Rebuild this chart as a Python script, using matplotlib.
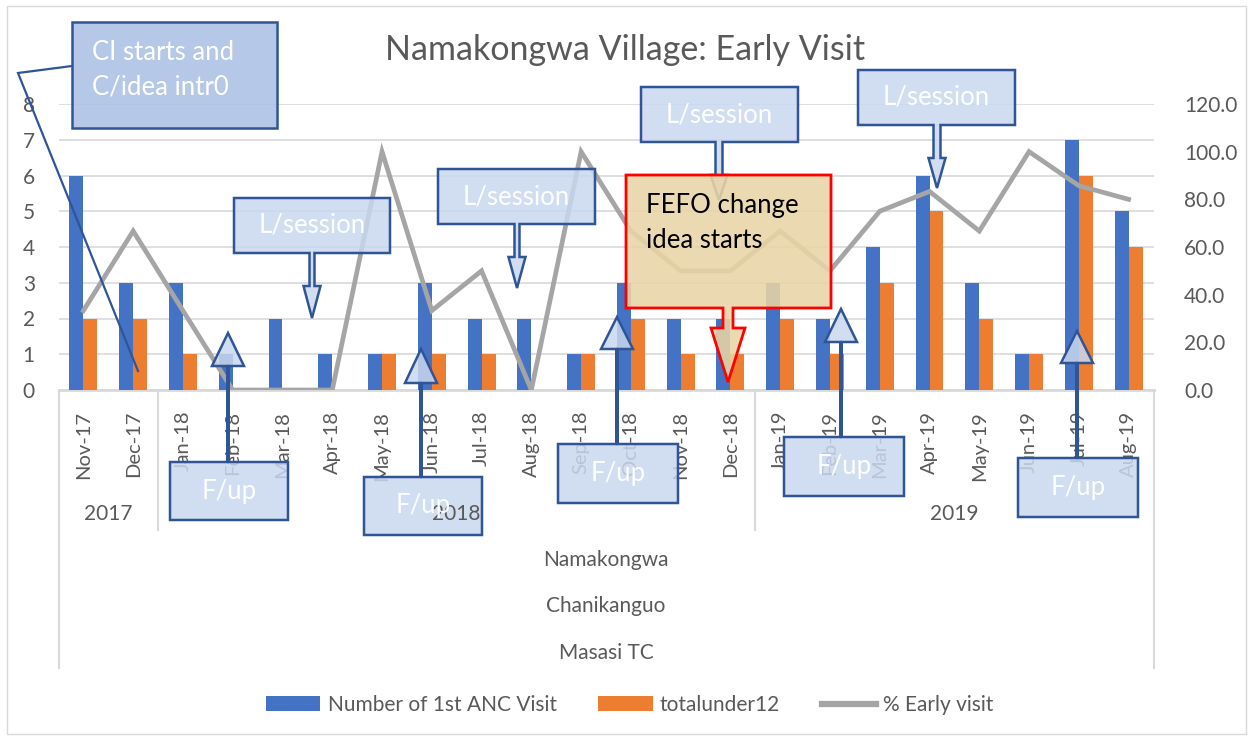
"""Namakongwa Village: Early Visit - combo chart with QI callouts."""
import matplotlib
matplotlib.use("Agg")
import matplotlib.pyplot as plt
from matplotlib.patches import Polygon, Rectangle, Patch
from matplotlib.lines import Line2D
from matplotlib.colors import to_rgba
from matplotlib import transforms
import numpy as np

plt.rcParams["font.family"] = ["Lato", "DejaVu Sans"]

months = ["Nov-17", "Dec-17", "Jan-18", "Feb-18", "Mar-18", "Apr-18", "May-18",
          "Jun-18", "Jul-18", "Aug-18", "Sep-18", "Oct-18", "Nov-18", "Dec-18",
          "Jan-19", "Feb-19", "Mar-19", "Apr-19", "May-19", "Jun-19", "Jul-19", "Aug-19"]
years = ["2017", "2018", "2019"]
year_first = [0, 2, 14]
year_last = [1, 13, 21]
levels = ["Namakongwa", "Chanikanguo", "Masasi TC"]

anc_first = [6, 3, 3, 1, 2, 1, 1, 3, 2, 2, 1, 3, 2, 2, 3, 2, 4, 6, 3, 1, 7, 5]
under12 = [2, 2, 1, 0, 0, 0, 1, 1, 1, 0, 1, 2, 1, 1, 2, 1, 3, 5, 2, 1, 6, 4]
pct_early = [33.3, 66.7, 33.3, 0.0, 0.0, 0.0, 100.0, 33.3, 50.0, 0.0, 100.0, 66.7,
             50.0, 50.0, 66.7, 50.0, 75.0, 83.3, 66.7, 100.0, 85.7, 80.0]

BLUE, ORANGE, GRAY = "#4472C4", "#ED7D31", "#A5A5A5"
TXT, GRID = "#595959", "#D9D9D9"
EDGE = "#2F5597"
W, H = 1250, 740

fig = plt.figure(figsize=(W / 100, H / 100), dpi=100)
ax = fig.add_axes([58.5 / W, (H - 390) / H, (1153.5 - 58.5) / W, (390 - 104) / H])
ax2 = ax.twinx()

x = np.arange(len(months))
ax.bar(x - 0.14, anc_first, width=0.28, color=BLUE, zorder=2)
ax.bar(x + 0.14, under12, width=0.28, color=ORANGE, zorder=2)
ax2.plot(x, pct_early, color=GRAY, lw=3.4, solid_joinstyle="miter")

ax.set_xlim(-0.5, len(months) - 0.5)
ax.set_ylim(0, 8)
ax2.set_ylim(0, 120)
ax.set_yticks(range(0, 9))
ax2.set_yticks(range(0, 121, 20))
ax2.set_yticklabels([f"{v:.1f}" for v in range(0, 121, 20)])
ax.set_xticks(x)
ax.set_xticklabels(months, rotation=90, va="top", ha="center")
ax.set_axisbelow(True)
ax.yaxis.grid(True, color=GRID, lw=1.2)
ax.axhline(0, color=GRID, lw=2, zorder=1, clip_on=False)
for a in (ax, ax2):
    for s in a.spines.values():
        s.set_visible(False)
ax.tick_params(axis="y", length=0, pad=17, labelsize=15, labelcolor=TXT)
ax.tick_params(axis="x", length=0, pad=15, labelsize=14.5, labelcolor=TXT)
ax2.tick_params(axis="y", length=0, pad=22, labelsize=15, labelcolor=TXT)

# overlay in pixel coordinates for table lines and callouts
ov = fig.add_axes([0, 0, 1, 1])
ov.set_xlim(0, W); ov.set_ylim(H, 0); ov.axis("off")
bt = transforms.blended_transform_factory(ax.transData, ov.transData)

ov.add_patch(Rectangle((7, 6), 1239, 728, fill=False, ec=GRID, lw=1))

n = len(months)
for xv, y1 in [(-0.5, 668), (n - 0.5, 668), (1.5, 530), (13.5, 530)]:
    ov.plot([xv, xv], [392, y1], color=GRID, lw=1.5, transform=bt)
for yr, a, b in zip(years, year_first, year_last):
    ov.text((a + b) / 2, 514, yr, transform=bt, ha="center", va="center",
            fontsize=15, color=TXT)
for lab, yy in zip(levels, [560, 606, 653]):
    ov.text((n - 1) / 2, yy, lab, transform=bt, ha="center", va="center",
            fontsize=15, color=TXT)

fig.text(625.5 / W, 1 - 50 / H, "Namakongwa Village: Early Visit", ha="center",
         va="center", fontsize=24.5, color=TXT)


def callout(box, cx, sw, base, hw, tip, fc, ec, alpha=0.85, lw=1.8):
    x0, y0, x1, y1 = box
    if tip > y1:   # arrow points down from box bottom
        yb = y1
        pts = [(x0, y0), (x1, y0), (x1, y1)]
        end = [(x0, y1)]
    else:          # arrow points up from box top
        yb = y0
        pts = [(x0, y1), (x1, y1), (x1, y0)]
        end = [(x0, y0)]
    pts += [(cx + sw / 2, yb), (cx + sw / 2, base), (cx + hw / 2, base), (cx, tip),
            (cx - hw / 2, base), (cx - sw / 2, base), (cx - sw / 2, yb)] + end
    ov.add_patch(Polygon(pts, closed=True, fc=to_rgba(fc, alpha), ec=ec, lw=lw,
                         joinstyle="miter"))


LFILL = "#C9D7EE"

# CI start callout with leader line
ov.add_patch(Rectangle((72, 22), 205, 106, fc=to_rgba("#ADC2E6", 0.9), ec=EDGE, lw=1.8))
ov.plot([72, 18, 138], [66, 73, 371], color=EDGE, lw=1.6, solid_joinstyle="miter")
ov.text(92, 52, "CI starts and", color="white", fontsize=18.5, va="center")
ov.text(92, 87, "C/idea intr0", color="white", fontsize=18.5, va="center")

# learning sessions
lsessions = [((234, 198, 390, 253), 312, 5, 286, 17, 318),
             ((438, 169, 595, 224), 517, 5, 257, 17, 288),
             ((641, 87, 798, 142), 719, 7, 175, 17, 200),
             ((858, 70, 1015, 125), 937, 7, 158, 17, 188)]
for box, cx, sw, base, hw, tip in lsessions:
    callout(box, cx, sw, base, hw, tip, LFILL, EDGE)
    ov.text((box[0] + box[2]) / 2, (box[1] + box[3]) / 2, "L/session", color="white",
            alpha=0.95, fontsize=18.5, ha="center", va="center")

# FEFO change idea
callout((626, 175, 831, 308), 728, 10, 328, 34, 382, "#E9D5A6", "#FF0000",
        alpha=0.88, lw=2)
ov.text(646, 205, "FEFO change", color="black", fontsize=18.5, va="center")
ov.text(646, 240, "idea starts", color="black", fontsize=18.5, va="center")

# follow-ups
followups = [((170, 462, 288, 520), 228, 366, 333),
             ((364, 477, 482, 535), 421, 383, 349),
             ((558, 444, 678, 503), 617, 349, 317),
             ((784, 437, 904, 496), 841, 342, 309),
             ((1018, 458, 1138, 517), 1077, 363, 331)]
for box, cx, base, tip in followups:
    callout(box, cx, 1.5, base, 32, tip, LFILL, EDGE)
    ov.text((box[0] + box[2]) / 2, (box[1] + box[3]) / 2, "F/up", color="white",
            alpha=0.95, fontsize=18.5, ha="center", va="center")

handles = [Patch(fc=BLUE), Patch(fc=ORANGE), Line2D([], [], color=GRAY, lw=4.5)]
fig.legend(handles, ["Number of 1st ANC Visit", "totalunder12", "% Early visit"],
           loc="center", bbox_to_anchor=(630 / W, 1 - 705 / H), ncol=3, frameon=False,
           fontsize=15, handlelength=2.6, handleheight=0.75, handletextpad=0.35,
           columnspacing=2.0, labelcolor=TXT)

fig.savefig("out.png", dpi=100)
